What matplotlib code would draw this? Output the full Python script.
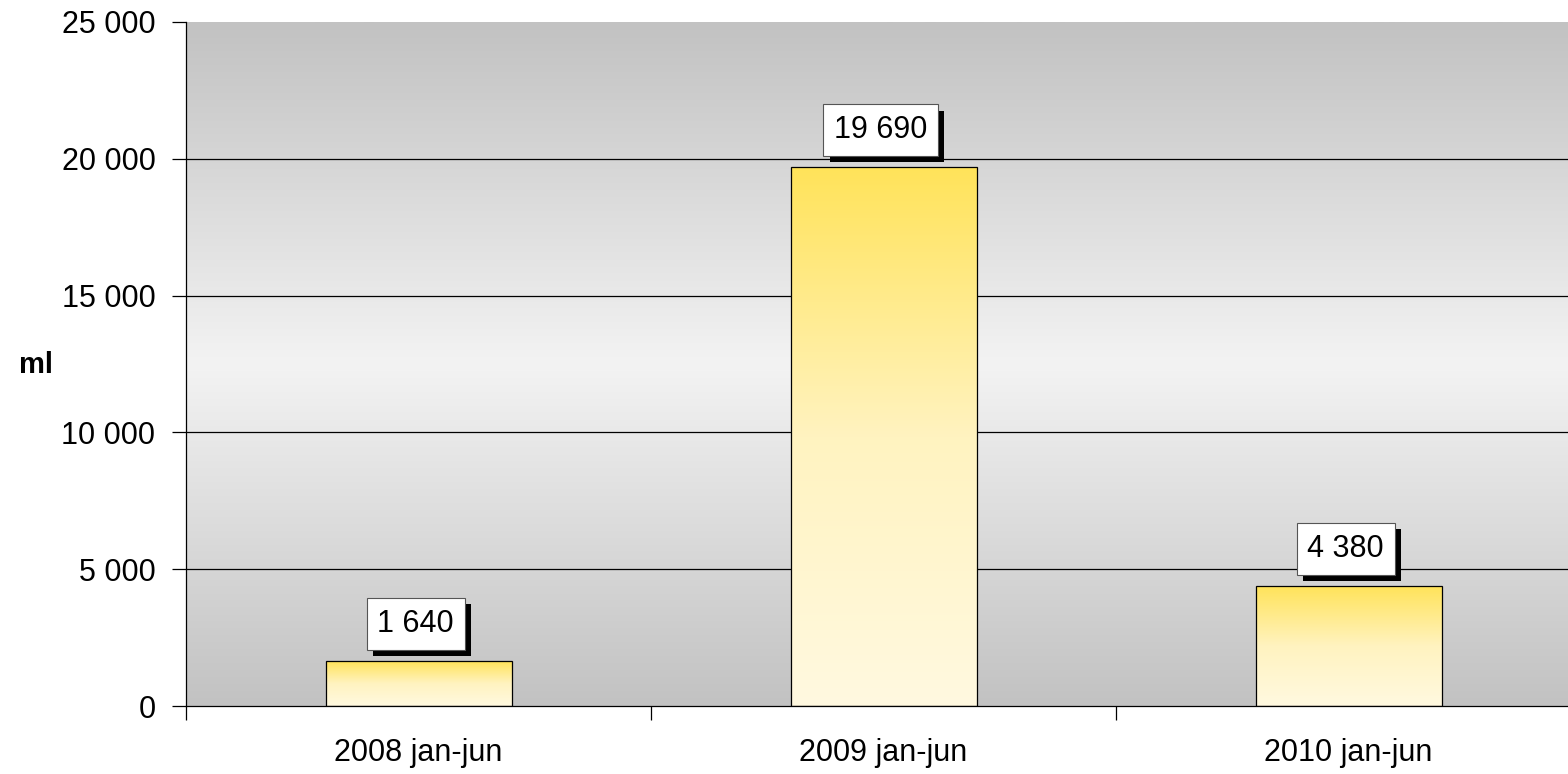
import matplotlib.pyplot as plt
import matplotlib
import numpy as np
from matplotlib.colors import LinearSegmentedColormap
import matplotlib.patheffects as pe

matplotlib.rcParams['font.family'] = ['Liberation Sans', 'DejaVu Sans']
matplotlib.rcParams['font.size'] = 22

categories = ["2008 jan-jun", "2009 jan-jun", "2010 jan-jun"]
values = [1640, 19690, 4380]
yticks = [0, 5000, 10000, 15000, 20000, 25000]

fig = plt.figure(figsize=(15.68, 7.74), dpi=100)
ax = fig.add_axes([186 / 1568, 1 - 706 / 774, 1 - 186 / 1568, (706 - 22) / 774])

ax.set_xlim(-0.5, 2.472)
ax.set_ylim(0, 25000)

# background gradient: dark - light - dark
bg = LinearSegmentedColormap.from_list("bg", ["#c2c2c2", "#f3f3f3", "#c2c2c2"])
grad = np.linspace(0, 1, 256).reshape(-1, 1)
ax.imshow(grad, cmap=bg, aspect='auto', extent=(-0.5, 2.472, 0, 25000),
          origin='lower', zorder=0)

for y in yticks[1:-1]:
    ax.axhline(y, color='black', lw=0.9, zorder=1)

# bars with yellow gradient
yel = LinearSegmentedColormap.from_list("yel", ["#fff9e0", "#fff3c0", "#ffe35a"])
bars = ax.bar(range(len(values)), values, width=0.4, facecolor='none',
              edgecolor='black', linewidth=0.9, zorder=3)
for b, v in zip(bars, values):
    x0 = b.get_x()
    im = ax.imshow(grad, cmap=yel, aspect='auto', origin='lower',
                   extent=(x0, x0 + b.get_width(), 0, v), zorder=2)
    im.set_clip_path(b)

ax.set_xlim(-0.5, 2.472)
ax.set_ylim(0, 25000)

# data labels
for i, v in enumerate(values):
    t = ax.annotate(f"{v:,}".replace(",", " "), (i, v), xytext=(-2, 16),
                    textcoords='offset points', ha='center', va='bottom',
                    fontsize=22, zorder=5,
                    bbox=dict(boxstyle='square,pad=0.35', fc='white', ec='#555555', lw=0.8))
    t.get_bbox_patch().set_path_effects([
        pe.SimplePatchShadow(offset=(4.5, -4.5), shadow_rgbFace='black', alpha=1),
        pe.Normal()])

ax.set_yticks(yticks)
ax.set_yticklabels([f"{y:,}".replace(",", " ") for y in yticks])
ax.set_xticks(range(len(categories)))
ax.set_xticklabels(categories)
ax.tick_params(axis='x', length=0, pad=23)
ax.set_xticks([-0.5, 0.5, 1.5], minor=True)
ax.tick_params(axis='x', which='minor', length=10, width=0.9, direction='out')
ax.tick_params(axis='y', length=10, width=0.9, pad=12)

for s in ['top', 'right']:
    ax.spines[s].set_visible(False)
ax.spines['left'].set_linewidth(0.9)
ax.spines['bottom'].set_linewidth(0.9)

ax.set_ylabel("ml", rotation=0, fontweight='bold', fontsize=21, va='center', ha='center')
ax.yaxis.set_label_coords(-0.1085, 0.4985)

plt.savefig('out.png', dpi=100)
